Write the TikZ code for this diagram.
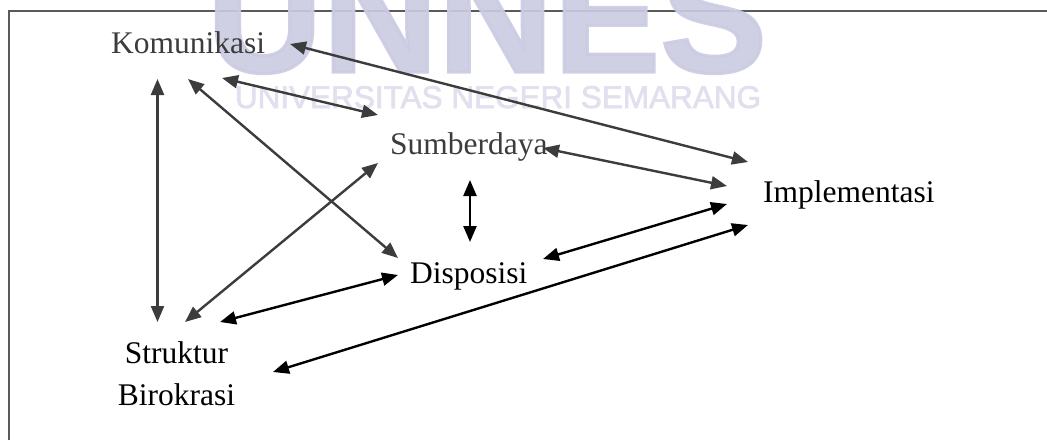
\documentclass[tikz,border=0pt]{standalone}
\usepackage{fontspec}
\setmainfont{Liberation Serif}
\newfontfamily\wmfont[FakeBold=2]{Liberation Sans}
\usetikzlibrary{arrows.meta}
\definecolor{ink}{HTML}{3C3C3C}
\definecolor{wmark}{HTML}{CBCBE3}
\definecolor{wmarklight}{HTML}{E0E0EE}
\definecolor{framegray}{HTML}{5A5A5A}
\begin{document}
\begin{tikzpicture}[x=1pt,y=-1pt,
  lbl/.style={inner sep=0pt, font=\fontsize{31.5}{42}\selectfont, anchor=base west},
  link/.style={line width=2.4pt, {Triangle[length=16pt,width=13pt]}-{Triangle[length=16pt,width=13pt]}},
  softlink/.style={link, draw=ink},
  hardlink/.style={link, draw=black},
]
% page
\useasboundingbox (0,0) rectangle (1047,440);
\clip (0,0) rectangle (1047,440);
\fill[white] (0,0) rectangle (1047,440);

% frame
\draw[framegray, line width=1.5pt] (9,440) -- (9,11) -- (1047,11);

% university watermark
\node[inner sep=0pt, anchor=base, text=wmark, text opacity=0.9,
      font=\wmfont\bfseries\fontsize{160}{160}\selectfont] (wm) at (487,72) {UNNES};
\node[inner sep=0pt, anchor=base, text=wmarklight,
      font=\wmfont\fontsize{31.5}{34}\selectfont] (wmsub) at (498,108) {UNIVERSITAS NEGERI SEMARANG};

% factors
\node[lbl, text=ink] (kom) at (111,53) {Komunikasi};
\node[lbl, text=ink] (sum) at (390,154) {Sumberdaya};
\node[lbl] (dis) at (410,283) {Disposisi};
\node[lbl] (imp) at (763,202) {Implementasi};
\node[lbl, align=center, anchor=base] (str) at (176.5,405) {Struktur\\Birokrasi};

% relations
\draw[softlink] ([shift={(179,-9)}]kom.base west) -- ([shift={(-15,-40)}]imp.base west);
\draw[softlink] ([shift={(111,25)}]kom.base west) -- ([shift={(-12,-39)}]sum.base west);
\draw[softlink] ([shift={(77,26)}]kom.base west) -- ([shift={(-12,-25)}]dis.base west);
\draw[softlink] ([shift={(46.5,26)}]kom.base west) -- ([shift={(-19,-83)}]str.base);
\draw[softlink] ([shift={(-12,9)}]sum.base west) -- ([shift={(8.5,-83)}]str.base);
\draw[hardlink] ([shift={(80,26)}]sum.base west) -- ([shift={(60,-41)}]dis.base west);
\draw[softlink] ([shift={(153,-6)}]sum.base west) -- ([shift={(-36,-16)}]imp.base west);
\draw[hardlink] ([shift={(133,-24)}]dis.base west) -- ([shift={(-36,2)}]imp.base west);
\draw[hardlink] ([shift={(-12,-8)}]dis.base west) -- ([shift={(43.5,-83)}]str.base);
\draw[hardlink] ([shift={(96.5,-33)}]str.base) -- ([shift={(-15,23)}]imp.base west);
\end{tikzpicture}
\end{document}
